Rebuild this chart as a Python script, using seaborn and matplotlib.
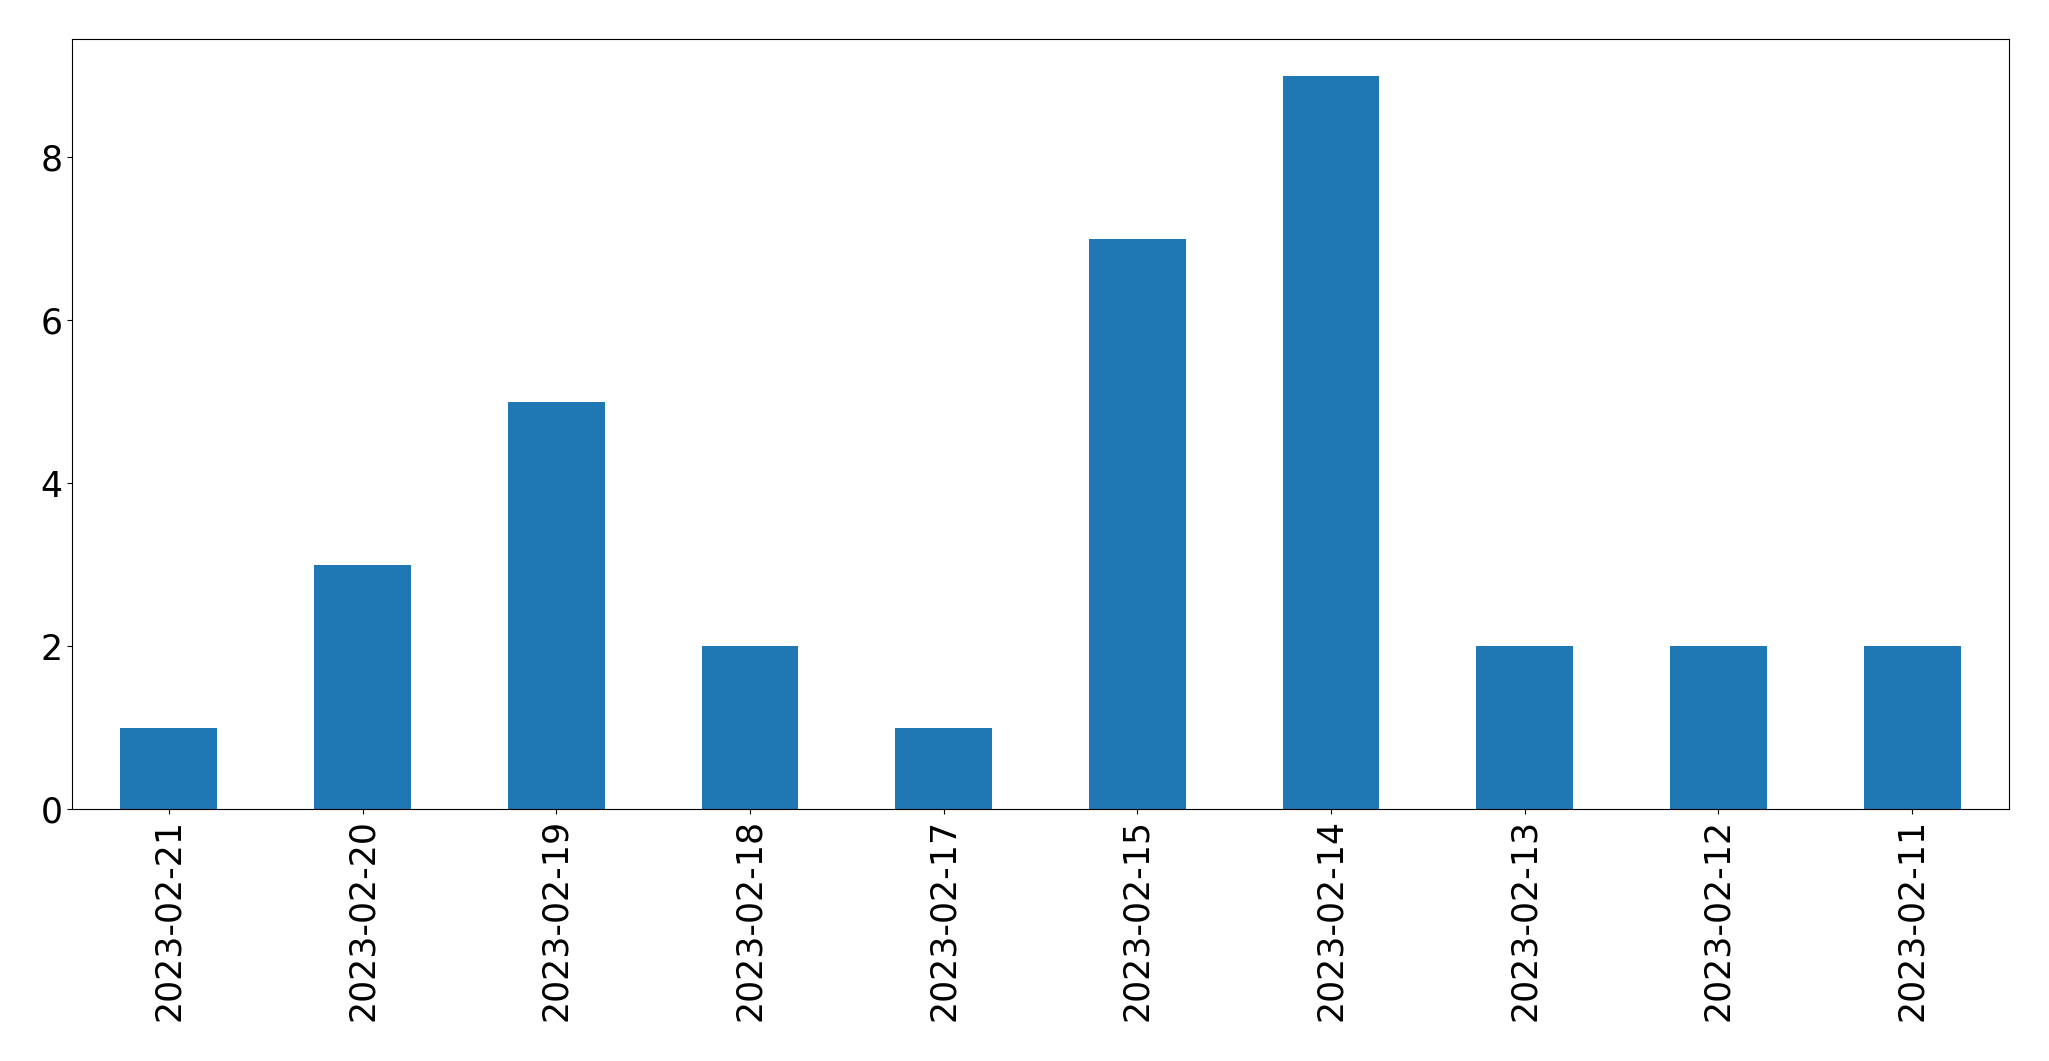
import pandas as pd
import matplotlib
matplotlib.use("Agg")
import matplotlib.pyplot as plt
import seaborn as sns

# Données
dates  = ["2023-02-21", "2023-02-20", "2023-02-19", "2023-02-18", "2023-02-17",
          "2023-02-15", "2023-02-14", "2023-02-13", "2023-02-12", "2023-02-11"]
counts = [1, 3, 5, 2, 1, 7, 9, 2, 2, 2]

df = pd.DataFrame({"date": dates, "count": counts})

fig = plt.figure(figsize=(20.49, 10.61), dpi=100)
ax = fig.add_axes([72 / 2049, 1 - 809 / 1061, (2009 - 72) / 2049, (809 - 39) / 1061])

sns.barplot(data=df, x="date", y="count", order=dates, color="#1f77b4",
            saturation=1, width=0.5, ax=ax)

ax.set_xlim(-0.5, len(dates) - 0.5)
ax.set_ylim(0, max(counts) * 1.05)
ax.set_xlabel("")
ax.set_ylabel("")
ax.tick_params(axis="both", labelsize=25)
plt.setp(ax.get_xticklabels(), rotation=90)

fig.savefig("out.png", dpi=100)
